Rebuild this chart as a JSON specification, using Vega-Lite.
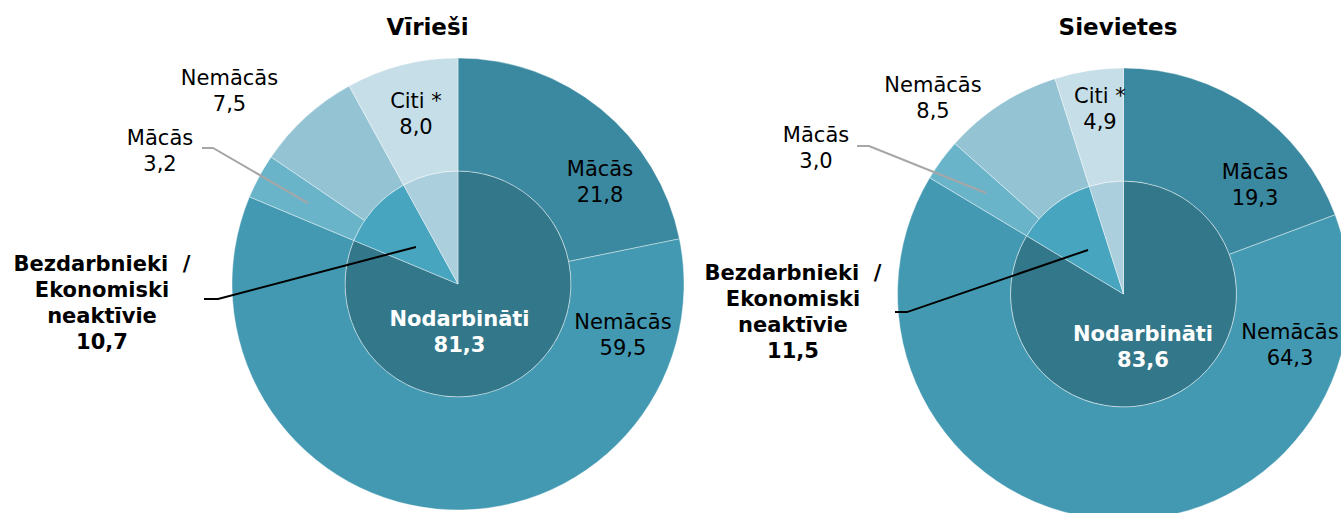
{
  "$schema": "https://vega.github.io/schema/vega-lite/v6.json",
  "background": "#ffffff",
  "padding": {"left": 0, "right": 0, "top": 16, "bottom": 0},
  "spacing": 0,
  "bounds": "flush",
  "config": {"view": {"stroke": null}, "font": "DejaVu Sans"},
  "datasets": {
    "m_in": [
      {"id": "in_emp", "o": 1, "v": 81.3, "lab": "Nodarbināti\n81,3"},
      {"id": "in_une", "o": 2, "v": 10.7, "lab": "Bezdarbnieki\u00a0\u00a0/\nEkonomiski\nneaktīvie\n10,7"},
      {"id": "in_oth", "o": 3, "v": 8.0, "lab": ""}
    ],
    "m_out": [
      {"id": "out_emp_st", "o": 1, "v": 21.8, "lab": "Mācās\n21,8"},
      {"id": "out_emp_ns", "o": 2, "v": 59.5, "lab": "Nemācās\n59,5"},
      {"id": "out_une_st", "o": 3, "v": 3.2, "lab": "Mācās\n3,2"},
      {"id": "out_une_ns", "o": 4, "v": 7.5, "lab": "Nemācās\n7,5"},
      {"id": "out_oth", "o": 5, "v": 8.0, "lab": "Citi *\n8,0"}
    ],
    "m_lead_gray": [
      {"p": 1, "x": -1.133, "y": 0.602},
      {"p": 2, "x": -1.084, "y": 0.602},
      {"p": 3, "x": -0.664, "y": 0.358}
    ],
    "m_lead_black": [
      {"p": 1, "x": -1.124, "y": -0.066},
      {"p": 2, "x": -1.062, "y": -0.066},
      {"p": 3, "x": -0.186, "y": 0.164}
    ],
    "f_in": [
      {"id": "in_emp", "o": 1, "v": 83.6, "lab": "Nodarbināti\n83,6"},
      {"id": "in_une", "o": 2, "v": 11.5, "lab": "Bezdarbnieki\u00a0\u00a0/\nEkonomiski\nneaktīvie\n11,5"},
      {"id": "in_oth", "o": 3, "v": 4.9, "lab": ""}
    ],
    "f_out": [
      {"id": "out_emp_st", "o": 1, "v": 19.3, "lab": "Mācās\n19,3"},
      {"id": "out_emp_ns", "o": 2, "v": 64.3, "lab": "Nemācās\n64,3"},
      {"id": "out_une_st", "o": 3, "v": 3.0, "lab": "Mācās\n3,0"},
      {"id": "out_une_ns", "o": 4, "v": 8.5, "lab": "Nemācās\n8,5"},
      {"id": "out_oth", "o": 5, "v": 4.9, "lab": "Citi *\n4,9"}
    ],
    "f_lead_gray": [
      {"p": 1, "x": -1.179, "y": 0.655},
      {"p": 2, "x": -1.126, "y": 0.655},
      {"p": 3, "x": -0.608, "y": 0.447}
    ],
    "f_lead_black": [
      {"p": 1, "x": -1.011, "y": -0.080},
      {"p": 2, "x": -0.958, "y": -0.080},
      {"p": 3, "x": -0.157, "y": 0.195}
    ]
  },
  "hconcat": [
    {
      "width": 916,
      "height": 468,
      "title": {"text": "Vīrieši", "font": "DejaVu Sans", "fontSize": 23, "fontWeight": "bold", "color": "#000000", "anchor": "middle", "frame": "group", "baseline": "alphabetic", "offset": -7.5, "dx": -30.5},
      "layer": [
        {
          "data": {"name": "m_in"},
          "mark": {"type": "arc", "radius": 113, "radius2": 0, "stroke": "#ffffff", "strokeWidth": 0.4},
          "encoding": {
            "theta": {"field": "v", "type": "quantitative", "stack": true, "scale": {"domain": [0, 100]}},
            "color": {"field": "id", "type": "nominal", "legend": null, "scale": {"domain": ["in_emp", "in_une", "in_oth", "out_emp_st", "out_emp_ns", "out_une_st", "out_une_ns", "out_oth"], "range": ["#33778A", "#47A5BF", "#ABCFDC", "#3B89A0", "#4399B1", "#6AB4CA", "#94C3D4", "#C6DEE7"]}},
            "order": {"field": "o", "type": "quantitative"}
          }
        },
        {
          "data": {"name": "m_out"},
          "mark": {"type": "arc", "radius": 226, "radius2": 113, "stroke": "#ffffff", "strokeWidth": 0.4},
          "encoding": {
            "theta": {"field": "v", "type": "quantitative", "stack": true, "scale": {"domain": [0, 100]}},
            "color": {"field": "id", "type": "nominal", "legend": null, "scale": {"domain": ["in_emp", "in_une", "in_oth", "out_emp_st", "out_emp_ns", "out_une_st", "out_une_ns", "out_oth"], "range": ["#33778A", "#47A5BF", "#ABCFDC", "#3B89A0", "#4399B1", "#6AB4CA", "#94C3D4", "#C6DEE7"]}},
            "order": {"field": "o", "type": "quantitative"}
          }
        },
        {
          "data": {"name": "m_lead_gray"},
          "mark": {"type": "line", "stroke": "#A6A6A6", "strokeWidth": 2},
          "encoding": {
            "x": {"field": "x", "type": "quantitative", "axis": null, "scale": {"domain": [-2.02655, 2.02655], "nice": false, "zero": false}},
            "y": {"field": "y", "type": "quantitative", "axis": null, "scale": {"domain": [-1.0354, 1.0354], "nice": false, "zero": false}},
            "order": {"field": "p", "type": "quantitative"}
          }
        },
        {
          "data": {"name": "m_lead_black"},
          "mark": {"type": "line", "stroke": "#000000", "strokeWidth": 2},
          "encoding": {
            "x": {"field": "x", "type": "quantitative", "axis": null, "scale": {"domain": [-2.02655, 2.02655], "nice": false, "zero": false}},
            "y": {"field": "y", "type": "quantitative", "axis": null, "scale": {"domain": [-1.0354, 1.0354], "nice": false, "zero": false}},
            "order": {"field": "p", "type": "quantitative"}
          }
        },
        {
          "data": {"name": "m_out"},
          "transform": [{"stack": "v", "groupby": [], "sort": [{"field": "o", "order": "ascending"}], "as": ["s0", "s1"]}, {"filter": "datum.id === 'out_emp_st'"}],
          "mark": {"type": "text", "radius": 170, "dx": 142, "dy": 61.5, "align": "center", "baseline": "alphabetic", "font": "DejaVu Sans", "fontSize": 21, "lineHeight": 26, "lineBreak": "\n", "color": "#000000"},
          "encoding": {
            "theta": {"field": "s0", "type": "quantitative", "stack": null, "scale": {"domain": [0, 100]}},
            "text": {"field": "lab"}
          }
        },
        {
          "data": {"name": "m_out"},
          "transform": [{"stack": "v", "groupby": [], "sort": [{"field": "o", "order": "ascending"}], "as": ["s0", "s1"]}, {"filter": "datum.id === 'out_emp_ns'"}],
          "mark": {"type": "text", "radius": 170, "dx": -1.6, "dy": 79.45, "align": "center", "baseline": "alphabetic", "font": "DejaVu Sans", "fontSize": 21, "lineHeight": 26, "lineBreak": "\n", "color": "#000000"},
          "encoding": {
            "theta": {"field": "s0", "type": "quantitative", "stack": null, "scale": {"domain": [0, 100]}},
            "text": {"field": "lab"}
          }
        },
        {
          "data": {"name": "m_out"},
          "transform": [{"stack": "v", "groupby": [], "sort": [{"field": "o", "order": "ascending"}], "as": ["s0", "s1"]}, {"filter": "datum.id === 'out_une_st'"}],
          "mark": {"type": "text", "radius": 250, "dx": -67.3, "dy": -43.1, "align": "center", "baseline": "alphabetic", "font": "DejaVu Sans", "fontSize": 21, "lineHeight": 26, "lineBreak": "\n", "color": "#000000"},
          "encoding": {
            "theta": {"field": "s0", "type": "quantitative", "stack": null, "scale": {"domain": [0, 100]}},
            "text": {"field": "lab"}
          }
        },
        {
          "data": {"name": "m_out"},
          "transform": [{"stack": "v", "groupby": [], "sort": [{"field": "o", "order": "ascending"}], "as": ["s0", "s1"]}, {"filter": "datum.id === 'out_une_ns'"}],
          "mark": {"type": "text", "radius": 250, "dx": -21.7, "dy": -58.0, "align": "center", "baseline": "alphabetic", "font": "DejaVu Sans", "fontSize": 21, "lineHeight": 26, "lineBreak": "\n", "color": "#000000"},
          "encoding": {
            "theta": {"field": "s0", "type": "quantitative", "stack": null, "scale": {"domain": [0, 100]}},
            "text": {"field": "lab"}
          }
        },
        {
          "data": {"name": "m_out"},
          "transform": [{"stack": "v", "groupby": [], "sort": [{"field": "o", "order": "ascending"}], "as": ["s0", "s1"]}, {"filter": "datum.id === 'out_oth'"}],
          "mark": {"type": "text", "radius": 170, "dx": 39.9, "dy": -27.5, "align": "center", "baseline": "alphabetic", "font": "DejaVu Sans", "fontSize": 21, "lineHeight": 26, "lineBreak": "\n", "color": "#000000"},
          "encoding": {
            "theta": {"field": "s0", "type": "quantitative", "stack": null, "scale": {"domain": [0, 100]}},
            "text": {"field": "lab"}
          }
        },
        {
          "data": {"name": "m_in"},
          "transform": [{"stack": "v", "groupby": [], "sort": [{"field": "o", "order": "ascending"}], "as": ["s0", "s1"]}, {"filter": "datum.id === 'in_emp'"}],
          "mark": {"type": "text", "radius": 56, "dx": 1.5, "dy": 97.5, "align": "center", "baseline": "alphabetic", "font": "DejaVu Sans", "fontSize": 21, "fontWeight": "bold", "lineHeight": 26, "lineBreak": "\n", "color": "#ffffff"},
          "encoding": {
            "theta": {"field": "s0", "type": "quantitative", "stack": null, "scale": {"domain": [0, 100]}},
            "text": {"field": "lab"}
          }
        },
        {
          "data": {"name": "m_in"},
          "transform": [{"stack": "v", "groupby": [], "sort": [{"field": "o", "order": "ascending"}], "as": ["s0", "s1"]}, {"filter": "datum.id === 'in_une'"}],
          "mark": {"type": "text", "radius": 300, "dx": -79.2, "dy": 102.2, "align": "center", "baseline": "alphabetic", "font": "DejaVu Sans", "fontSize": 21, "fontWeight": "bold", "lineHeight": 26, "lineBreak": "\n", "color": "#000000"},
          "encoding": {
            "theta": {"field": "s0", "type": "quantitative", "stack": null, "scale": {"domain": [0, 100]}},
            "text": {"field": "lab"}
          }
        }
      ]
    },
    {
      "width": 415,
      "height": 488,
      "title": {"text": "Sievietes", "font": "DejaVu Sans", "fontSize": 23, "fontWeight": "bold", "color": "#000000", "anchor": "middle", "frame": "group", "baseline": "alphabetic", "offset": -7.5, "dx": -5.5},
      "layer": [
        {
          "data": {"name": "f_in"},
          "mark": {"type": "arc", "radius": 113, "radius2": 0, "stroke": "#ffffff", "strokeWidth": 0.4},
          "encoding": {
            "theta": {"field": "v", "type": "quantitative", "stack": true, "scale": {"domain": [0, 100]}},
            "color": {"field": "id", "type": "nominal", "legend": null, "scale": {"domain": ["in_emp", "in_une", "in_oth", "out_emp_st", "out_emp_ns", "out_une_st", "out_une_ns", "out_oth"], "range": ["#33778A", "#47A5BF", "#ABCFDC", "#3B89A0", "#4399B1", "#6AB4CA", "#94C3D4", "#C6DEE7"]}},
            "order": {"field": "o", "type": "quantitative"}
          }
        },
        {
          "data": {"name": "f_out"},
          "mark": {"type": "arc", "radius": 226, "radius2": 113, "stroke": "#ffffff", "strokeWidth": 0.4},
          "encoding": {
            "theta": {"field": "v", "type": "quantitative", "stack": true, "scale": {"domain": [0, 100]}},
            "color": {"field": "id", "type": "nominal", "legend": null, "scale": {"domain": ["in_emp", "in_une", "in_oth", "out_emp_st", "out_emp_ns", "out_une_st", "out_une_ns", "out_oth"], "range": ["#33778A", "#47A5BF", "#ABCFDC", "#3B89A0", "#4399B1", "#6AB4CA", "#94C3D4", "#C6DEE7"]}},
            "order": {"field": "o", "type": "quantitative"}
          }
        },
        {
          "data": {"name": "f_lead_gray"},
          "mark": {"type": "line", "stroke": "#A6A6A6", "strokeWidth": 2},
          "encoding": {
            "x": {"field": "x", "type": "quantitative", "axis": null, "scale": {"domain": [-0.91814, 0.91814], "nice": false, "zero": false}},
            "y": {"field": "y", "type": "quantitative", "axis": null, "scale": {"domain": [-1.07965, 1.07965], "nice": false, "zero": false}},
            "order": {"field": "p", "type": "quantitative"}
          }
        },
        {
          "data": {"name": "f_lead_black"},
          "mark": {"type": "line", "stroke": "#000000", "strokeWidth": 2},
          "encoding": {
            "x": {"field": "x", "type": "quantitative", "axis": null, "scale": {"domain": [-0.91814, 0.91814], "nice": false, "zero": false}},
            "y": {"field": "y", "type": "quantitative", "axis": null, "scale": {"domain": [-1.07965, 1.07965], "nice": false, "zero": false}},
            "order": {"field": "p", "type": "quantitative"}
          }
        },
        {
          "data": {"name": "f_out"},
          "transform": [{"stack": "v", "groupby": [], "sort": [{"field": "o", "order": "ascending"}], "as": ["s0", "s1"]}, {"filter": "datum.id === 'out_emp_st'"}],
          "mark": {"type": "text", "radius": 170, "dx": 131.5, "dy": 54.5, "align": "center", "baseline": "alphabetic", "font": "DejaVu Sans", "fontSize": 21, "lineHeight": 26, "lineBreak": "\n", "color": "#000000"},
          "encoding": {
            "theta": {"field": "s0", "type": "quantitative", "stack": null, "scale": {"domain": [0, 100]}},
            "text": {"field": "lab"}
          }
        },
        {
          "data": {"name": "f_out"},
          "transform": [{"stack": "v", "groupby": [], "sort": [{"field": "o", "order": "ascending"}], "as": ["s0", "s1"]}, {"filter": "datum.id === 'out_emp_ns'"}],
          "mark": {"type": "text", "radius": 170, "dx": 7.3, "dy": 104.1, "align": "center", "baseline": "alphabetic", "font": "DejaVu Sans", "fontSize": 21, "lineHeight": 26, "lineBreak": "\n", "color": "#000000"},
          "encoding": {
            "theta": {"field": "s0", "type": "quantitative", "stack": null, "scale": {"domain": [0, 100]}},
            "text": {"field": "lab"}
          }
        },
        {
          "data": {"name": "f_out"},
          "transform": [{"stack": "v", "groupby": [], "sort": [{"field": "o", "order": "ascending"}], "as": ["s0", "s1"]}, {"filter": "datum.id === 'out_une_st'"}],
          "mark": {"type": "text", "radius": 250, "dx": -93.1, "dy": -22.9, "align": "center", "baseline": "alphabetic", "font": "DejaVu Sans", "fontSize": 21, "lineHeight": 26, "lineBreak": "\n", "color": "#000000"},
          "encoding": {
            "theta": {"field": "s0", "type": "quantitative", "stack": null, "scale": {"domain": [0, 100]}},
            "text": {"field": "lab"}
          }
        },
        {
          "data": {"name": "f_out"},
          "transform": [{"stack": "v", "groupby": [], "sort": [{"field": "o", "order": "ascending"}], "as": ["s0", "s1"]}, {"filter": "datum.id === 'out_une_ns'"}],
          "mark": {"type": "text", "radius": 250, "dx": -4.0, "dy": -35.0, "align": "center", "baseline": "alphabetic", "font": "DejaVu Sans", "fontSize": 21, "lineHeight": 26, "lineBreak": "\n", "color": "#000000"},
          "encoding": {
            "theta": {"field": "s0", "type": "quantitative", "stack": null, "scale": {"domain": [0, 100]}},
            "text": {"field": "lab"}
          }
        },
        {
          "data": {"name": "f_out"},
          "transform": [{"stack": "v", "groupby": [], "sort": [{"field": "o", "order": "ascending"}], "as": ["s0", "s1"]}, {"filter": "datum.id === 'out_oth'"}],
          "mark": {"type": "text", "radius": 170, "dx": 28.0, "dy": -28.5, "align": "center", "baseline": "alphabetic", "font": "DejaVu Sans", "fontSize": 21, "lineHeight": 26, "lineBreak": "\n", "color": "#000000"},
          "encoding": {
            "theta": {"field": "s0", "type": "quantitative", "stack": null, "scale": {"domain": [0, 100]}},
            "text": {"field": "lab"}
          }
        },
        {
          "data": {"name": "f_in"},
          "transform": [{"stack": "v", "groupby": [], "sort": [{"field": "o", "order": "ascending"}], "as": ["s0", "s1"]}, {"filter": "datum.id === 'in_emp'"}],
          "mark": {"type": "text", "radius": 56, "dx": 19.5, "dy": 102.5, "align": "center", "baseline": "alphabetic", "font": "DejaVu Sans", "fontSize": 21, "fontWeight": "bold", "lineHeight": 26, "lineBreak": "\n", "color": "#ffffff"},
          "encoding": {
            "theta": {"field": "s0", "type": "quantitative", "stack": null, "scale": {"domain": [0, 100]}},
            "text": {"field": "lab"}
          }
        },
        {
          "data": {"name": "f_in"},
          "transform": [{"stack": "v", "groupby": [], "sort": [{"field": "o", "order": "ascending"}], "as": ["s0", "s1"]}, {"filter": "datum.id === 'in_une'"}],
          "mark": {"type": "text", "radius": 300, "dx": -73.3, "dy": 140.8, "align": "center", "baseline": "alphabetic", "font": "DejaVu Sans", "fontSize": 21, "fontWeight": "bold", "lineHeight": 26, "lineBreak": "\n", "color": "#000000"},
          "encoding": {
            "theta": {"field": "s0", "type": "quantitative", "stack": null, "scale": {"domain": [0, 100]}},
            "text": {"field": "lab"}
          }
        }
      ]
    }
  ]
}
